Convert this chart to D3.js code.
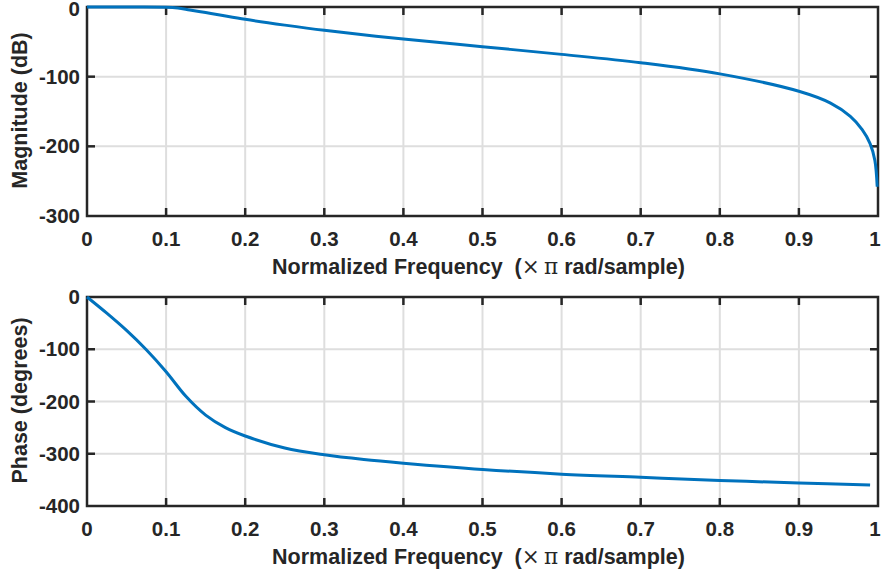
<!DOCTYPE html>
<html>
<head>
<meta charset="utf-8">
<script src="https://cdn.jsdelivr.net/npm/d3@7"></script>
<style>
  body { margin: 0; background: #fff; }
  text { font-family: "Liberation Sans", Arial, sans-serif; font-weight: bold; fill: #262626; }
</style>
</head>
<body>
<svg width="882" height="575"></svg>
<script>
// frequency (x pi rad/sample) and magnitude (dB)
const magFreq = [0, 0.05, 0.1, 0.115, 0.13, 0.15, 0.168, 0.2, 0.25, 0.3, 0.4, 0.5, 0.6, 0.7, 0.8, 0.9, 0.94, 0.965, 0.98, 0.99, 0.996, 0.999]
const magDb   = [0, 0, -0.3, -1.5, -4.3, -8, -11.5, -17.7, -26, -33.5, -46, -57, -68, -80, -96, -121, -138, -157, -176, -196, -220, -258]

// frequency and phase (degrees)
const phaseFreq = [0, 0.025, 0.05, 0.075, 0.1, 0.125, 0.15, 0.175, 0.2, 0.25, 0.3, 0.35, 0.4, 0.5, 0.6, 0.7, 0.8, 0.9, 0.99]
const phaseDeg  = [0, -31, -64, -101, -143, -190, -226, -250, -266, -289, -302, -311, -318, -330, -339, -345, -351, -356, -360]

const xTicks = [0, 0.1, 0.2, 0.3, 0.4, 0.5, 0.6, 0.7, 0.8, 0.9, 1]
const magTicks = [0, -100, -200, -300]
const phaseTicks = [0, -100, -200, -300, -400]

const svg = d3.select("svg")
const left = 87, right = 878

const panels = [
  {top: 7, bottom: 216, domain: [-300, 0], ticks: magTicks, ylabel: "Magnitude (dB)",
   data: magFreq.map((f, i) => [f, magDb[i]])},
  {top: 297, bottom: 506, domain: [-400, 0], ticks: phaseTicks, ylabel: "Phase (degrees)",
   data: phaseFreq.map((f, i) => [f, phaseDeg[i]])},
]

panels.forEach(p => {
  const x = d3.scaleLinear().domain([0, 1]).range([left, right])
  const y = d3.scaleLinear().domain(p.domain).range([p.bottom, p.top])
  const g = svg.append("g")

  // grid
  g.selectAll(".vg").data(xTicks.slice(1, -1)).enter().append("line")
      .attr("x1", d => x(d)).attr("x2", d => x(d))
      .attr("y1", p.top).attr("y2", p.bottom)
      .attr("stroke", "#dedede").attr("stroke-width", 2)
  g.selectAll(".hg").data(p.ticks.slice(1, -1)).enter().append("line")
      .attr("x1", left).attr("x2", right)
      .attr("y1", d => y(d)).attr("y2", d => y(d))
      .attr("stroke", "#dedede").attr("stroke-width", 2)

  // box and inward ticks
  const axisCol = "#262626"
  g.append("rect")
      .attr("x", left).attr("y", p.top)
      .attr("width", right - left).attr("height", p.bottom - p.top)
      .attr("fill", "none").attr("stroke", axisCol).attr("stroke-width", 2.5)

  const tl = 8
  xTicks.slice(1, -1).forEach(t => {
    g.append("line").attr("x1", x(t)).attr("x2", x(t)).attr("y1", p.bottom).attr("y2", p.bottom - tl)
        .attr("stroke", axisCol).attr("stroke-width", 2.5)
    g.append("line").attr("x1", x(t)).attr("x2", x(t)).attr("y1", p.top).attr("y2", p.top + tl)
        .attr("stroke", axisCol).attr("stroke-width", 2.5)
  })
  p.ticks.slice(1, -1).forEach(t => {
    g.append("line").attr("x1", left).attr("x2", left + tl).attr("y1", y(t)).attr("y2", y(t))
        .attr("stroke", axisCol).attr("stroke-width", 2.5)
    g.append("line").attr("x1", right).attr("x2", right - tl).attr("y1", y(t)).attr("y2", y(t))
        .attr("stroke", axisCol).attr("stroke-width", 2.5)
  })

  // tick labels
  g.selectAll(".xl").data(xTicks).enter().append("text")
      .attr("x", d => Math.min(x(d), 875)).attr("y", p.bottom + 30)
      .attr("text-anchor", "middle").attr("font-size", 20.5)
      .text(d => d)
  g.selectAll(".yl").data(p.ticks).enter().append("text")
      .attr("x", left - 7).attr("y", d => Math.max(y(d) + 7, 16))
      .attr("text-anchor", "end").attr("font-size", 20.5)
      .text(d => d)

  // axis labels
  const xl = g.append("text")
      .attr("x", (left + right) / 2 - 4).attr("y", p.bottom + 58)
      .attr("text-anchor", "middle").attr("font-size", 21.5)
      .attr("xml:space", "preserve")
  xl.append("tspan").text("Normalized Frequency  (")
  xl.append("tspan").attr("font-family", "DejaVu Serif").attr("font-weight", "normal")
      .text("\u00d7\u2009\u03c0")
  xl.append("tspan").text(" rad/sample)")
  g.append("text")
      .attr("transform", `translate(27, ${(p.top + p.bottom) / 2 - 1}) rotate(-90)`)
      .attr("text-anchor", "middle").attr("font-size", 21.5)
      .text(p.ylabel)

  // curve
  const line = d3.line().x(d => x(d[0])).y(d => y(d[1])).curve(d3.curveCatmullRom.alpha(0.5))
  g.append("path").datum(p.data)
      .attr("d", line)
      .attr("fill", "none").attr("stroke", "#0072BD").attr("stroke-width", 3)
})
</script>
</body>
</html>
